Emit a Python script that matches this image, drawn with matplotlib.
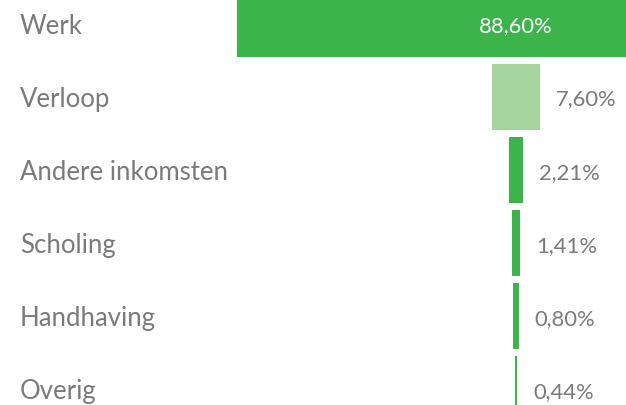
import matplotlib
matplotlib.use("Agg")
import matplotlib.pyplot as plt
from matplotlib.transforms import blended_transform_factory

categories = ["Werk", "Verloop", "Andere inkomsten", "Scholing", "Handhaving", "Overig"]
shares = [88.60, 7.60, 2.21, 1.41, 0.80, 0.44]
value_labels = ["88,60%", "7,60%", "2,21%", "1,41%", "0,80%", "0,44%"]

GREEN = "#3BB54A"
LIGHT_GREEN = "#A5D49C"
TEXT_GREY = "#7A7A7A"
bar_colors = [GREEN, LIGHT_GREEN, GREEN, GREEN, GREEN, GREEN]

plt.rcParams["font.family"] = ["Lato", "DejaVu Sans"]

fig = plt.figure(figsize=(6.26, 4.06), dpi=100)
ax = fig.add_axes([0, 0, 1, 1])
ax.set_axis_off()

rows = list(range(len(categories)))
# funnel: bars centred on zero
lefts = [-s / 2 for s in shares]
ax.barh(rows, shares, left=lefts, height=0.904, color=bar_colors, edgecolor="none")

ax.set_xlim(-81.9, 17.46)
ax.set_ylim(5.223, -0.338)

CAT_SIZE = 18.5
VAL_SIZE = 15.8

trans = blended_transform_factory(ax.transAxes, ax.transData)
for r, name in zip(rows, categories):
    # baseline placed so the capitals sit centred on the row
    ax.annotate(name, xy=(0.032, r), xycoords=trans,
                xytext=(0, -0.36 * CAT_SIZE), textcoords="offset points",
                ha="left", va="baseline", fontsize=CAT_SIZE, color=TEXT_GREY)

for r, s, lab in zip(rows, shares, value_labels):
    if s > 50:
        ax.annotate(lab, xy=(0, r), xytext=(0, -0.36 * VAL_SIZE), textcoords="offset points",
                    ha="center", va="baseline", fontsize=VAL_SIZE, color="white")
    else:
        ax.annotate(lab, xy=(s / 2, r), xytext=(11.5, -0.36 * VAL_SIZE), textcoords="offset points",
                    ha="left", va="baseline", fontsize=VAL_SIZE, color=TEXT_GREY)

fig.savefig("out.png", dpi=100)
